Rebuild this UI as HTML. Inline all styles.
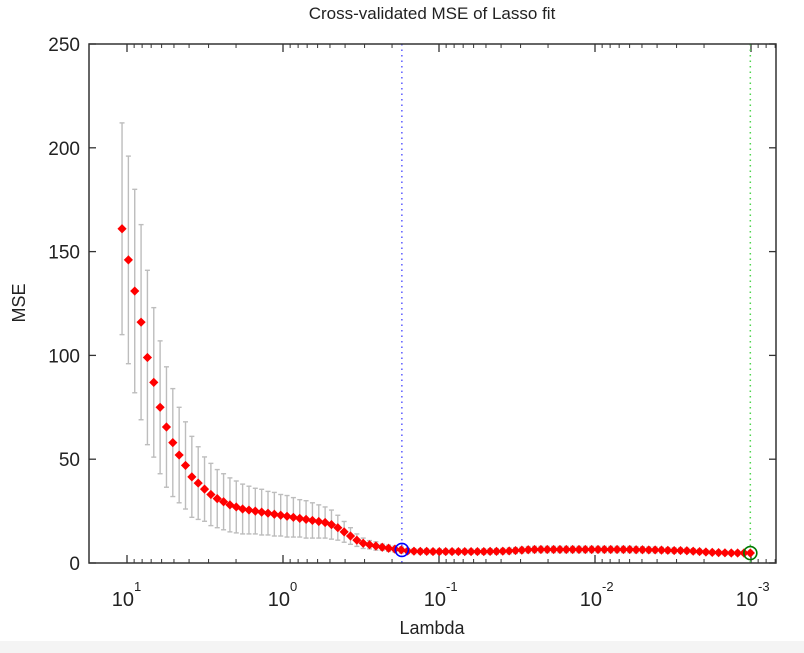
<!DOCTYPE html>
<html><head><meta charset="utf-8"><style>
html,body{margin:0;padding:0;background:#fff;}
svg{display:block;font-family:"Liberation Sans",Arial,sans-serif;}
</style></head><body>
<svg id="chart" width="804" height="653" viewBox="0 0 804 653">
<rect x="0" y="0" width="804" height="653" fill="#fff"/>
<rect x="0" y="641" width="804" height="12" fill="#f4f4f4"/>
<text x="432" y="19" font-size="17" text-anchor="middle" fill="#222">Cross-validated MSE of Lasso fit</text>
<text x="432" y="634" font-size="18" text-anchor="middle" fill="#222">Lambda</text>
<text x="0" y="0" font-size="18" text-anchor="middle" fill="#222" transform="translate(25,303) rotate(-90)">MSE</text>
<g id="grid"></g>
<g id="bars"></g>
<g id="marks"></g>
<rect x="89" y="44" width="687" height="519" fill="none" stroke="#333" stroke-width="1.5"/>
</svg>
<script>
const mse = [161,146,131,116,99,87,75,65.5,58,52,47,41.5,38.5,35.6,33,31,29.5,28,27,26,25.5,25,24.5,24,23.5,23,22.5,22,21.5,21,20.5,20,19.5,18.5,17,15,13,11,9.5,8.8,8.2,7.6,7.1,6.7,6.3,
5.8,5.7,5.6,5.6,5.5,5.5,5.5,5.5,5.5,5.5,5.5,5.5,5.5,5.6,5.6,5.7,5.8,6,6.2,6.4,6.5,6.5,6.5,6.5,6.5,6.5,6.5,6.5,6.5,6.5,6.5,6.5,6.5,6.5,6.5,6.5,6.4,6.4,6.3,6.3,6.2,6.1,6,6,5.9,5.7,5.5,5.3,5.1,5,4.9,4.8,4.8,4.8,4.8];
const se = [51,50,49,47,42,36,32,29,26,23,21,19.5,17.5,15.5,15,14,13.5,13,12.5,12,11.5,11,11,10.5,10.5,10,10,9.5,9,9,8.5,8,7.5,7,6,5,4,3,2.5,2,2,1.5,1.5,1.5,1.5,
1.2,1.2,1.2,1.2,1.2,1.2,1.2,1.2,1.2,1.2,1.2,1.2,1.3,1.3,1.3,1.3,1.4,1.4,1.4,1.5,1.5,1.5,1.5,1.5,1.5,1.5,1.5,1.5,1.5,1.5,1.5,1.5,1.5,1.5,1.5,1.5,1.5,1.4,1.4,1.4,1.3,1.3,1.3,1.2,1.2,1.2,1.1,1.1,1,1,1,1,1,1,1];
const lambdaMax = 10.76;
const lambdaMin = 0.00101;
const lambdaBest = 0.173;
const xTickExps = [1,0,-1,-2,-3];
const yTicks = [0,50,100,150,200,250];

const NS="http://www.w3.org/2000/svg";
const X0=127, DEC=156, YB=563, YT=44, YMAX=250;
function xs(l){return X0+(1-Math.log10(l))*DEC;}
function ys(v){return YB-(v/YMAX)*(YB-YT);}
function mk(t,a,p){const e=document.createElementNS(NS,t);for(const k in a)e.setAttribute(k,a[k]);p.appendChild(e);return e;}
const grid=document.getElementById('grid'), bars=document.getElementById('bars'), marks=document.getElementById('marks');
yTicks.forEach(v=>{
  const y=ys(v);
  const t=mk('text',{x:80,y:y+7,'font-size':19,'text-anchor':'end',fill:'#222'},grid);
  t.textContent=v;
  
  
  mk('line',{x1:89,x2:96,y1:y,y2:y,stroke:'#333','stroke-width':1.3},grid);
  mk('line',{x1:769,x2:776,y1:y,y2:y,stroke:'#333','stroke-width':1.3},grid);
});
xTickExps.forEach(e=>{
  const x=xs(Math.pow(10,e));
  mk('line',{x1:x,x2:x,y1:YB,y2:YB-8,stroke:'#333','stroke-width':1.3},grid);
  mk('line',{x1:x,x2:x,y1:YT,y2:YT+8,stroke:'#333','stroke-width':1.3},grid);
  const t=mk('text',{x:x+7,y:606,'font-size':20,'text-anchor':'end',fill:'#222'},grid);
  t.textContent='10';
  
  
  const s=mk('text',{x:x+7,y:591,'font-size':13,'text-anchor':'start',fill:'#222'},grid);
  s.textContent=String(e);
  for(let m=2;m<=9;m++){
    const xm=xs(m*Math.pow(10,e-1));
    if(xm>89&&xm<776){
      mk('line',{x1:xm,x2:xm,y1:YB,y2:YB-4,stroke:'#333','stroke-width':1},grid);
      mk('line',{x1:xm,x2:xm,y1:YT,y2:YT+4,stroke:'#333','stroke-width':1},grid);
    }
  }
});
const n=mse.length;
const lam=mse.map((_,i)=>Math.pow(10,Math.log10(lambdaMax)+(Math.log10(lambdaMin)-Math.log10(lambdaMax))*i/(n-1)));
const bl=mk('line',{x1:xs(lambdaBest),x2:xs(lambdaBest),y1:YT,y2:YB,stroke:'#5a5aff','stroke-width':1.5,'stroke-dasharray':'1.5 4'},grid);


const gl=mk('line',{x1:xs(lambdaMin),x2:xs(lambdaMin),y1:YT,y2:YB,stroke:'#4cd44c','stroke-width':1.5,'stroke-dasharray':'1.5 4'},grid);


mse.forEach((v,i)=>{
  const x=xs(lam[i]), y1=ys(v+se[i]), y2=ys(v-se[i]);
  const g=mk('g',{stroke:'#bdbdbd','stroke-width':1.4},bars);
  
  
  mk('line',{x1:x,x2:x,y1:y1,y2:y2},g);
  mk('line',{x1:x-2.5,x2:x+2.5,y1:y1,y2:y1},g);
  mk('line',{x1:x-2.5,x2:x+2.5,y1:y2,y2:y2},g);
});
mse.forEach((v,i)=>{
  const x=xs(lam[i]), y=ys(v), r=4.6;
  const p=mk('polygon',{points:`${x},${y-r} ${x+r},${y} ${x},${y+r} ${x-r},${y}`,fill:'#ff0000'},marks);
  
  
});
const bi=lam.reduce((b,l,i)=>Math.abs(Math.log(l/lambdaBest))<Math.abs(Math.log(lam[b]/lambdaBest))?i:b,0);
const c1=mk('circle',{cx:xs(lambdaBest),cy:ys(mse[bi]),r:6.5,fill:'none',stroke:'#0000ff','stroke-width':1.6},marks);


const c2=mk('circle',{cx:xs(lambdaMin),cy:ys(mse[n-1]),r:6.5,fill:'none',stroke:'#007a00','stroke-width':1.6},marks);


</script>
</body></html>
